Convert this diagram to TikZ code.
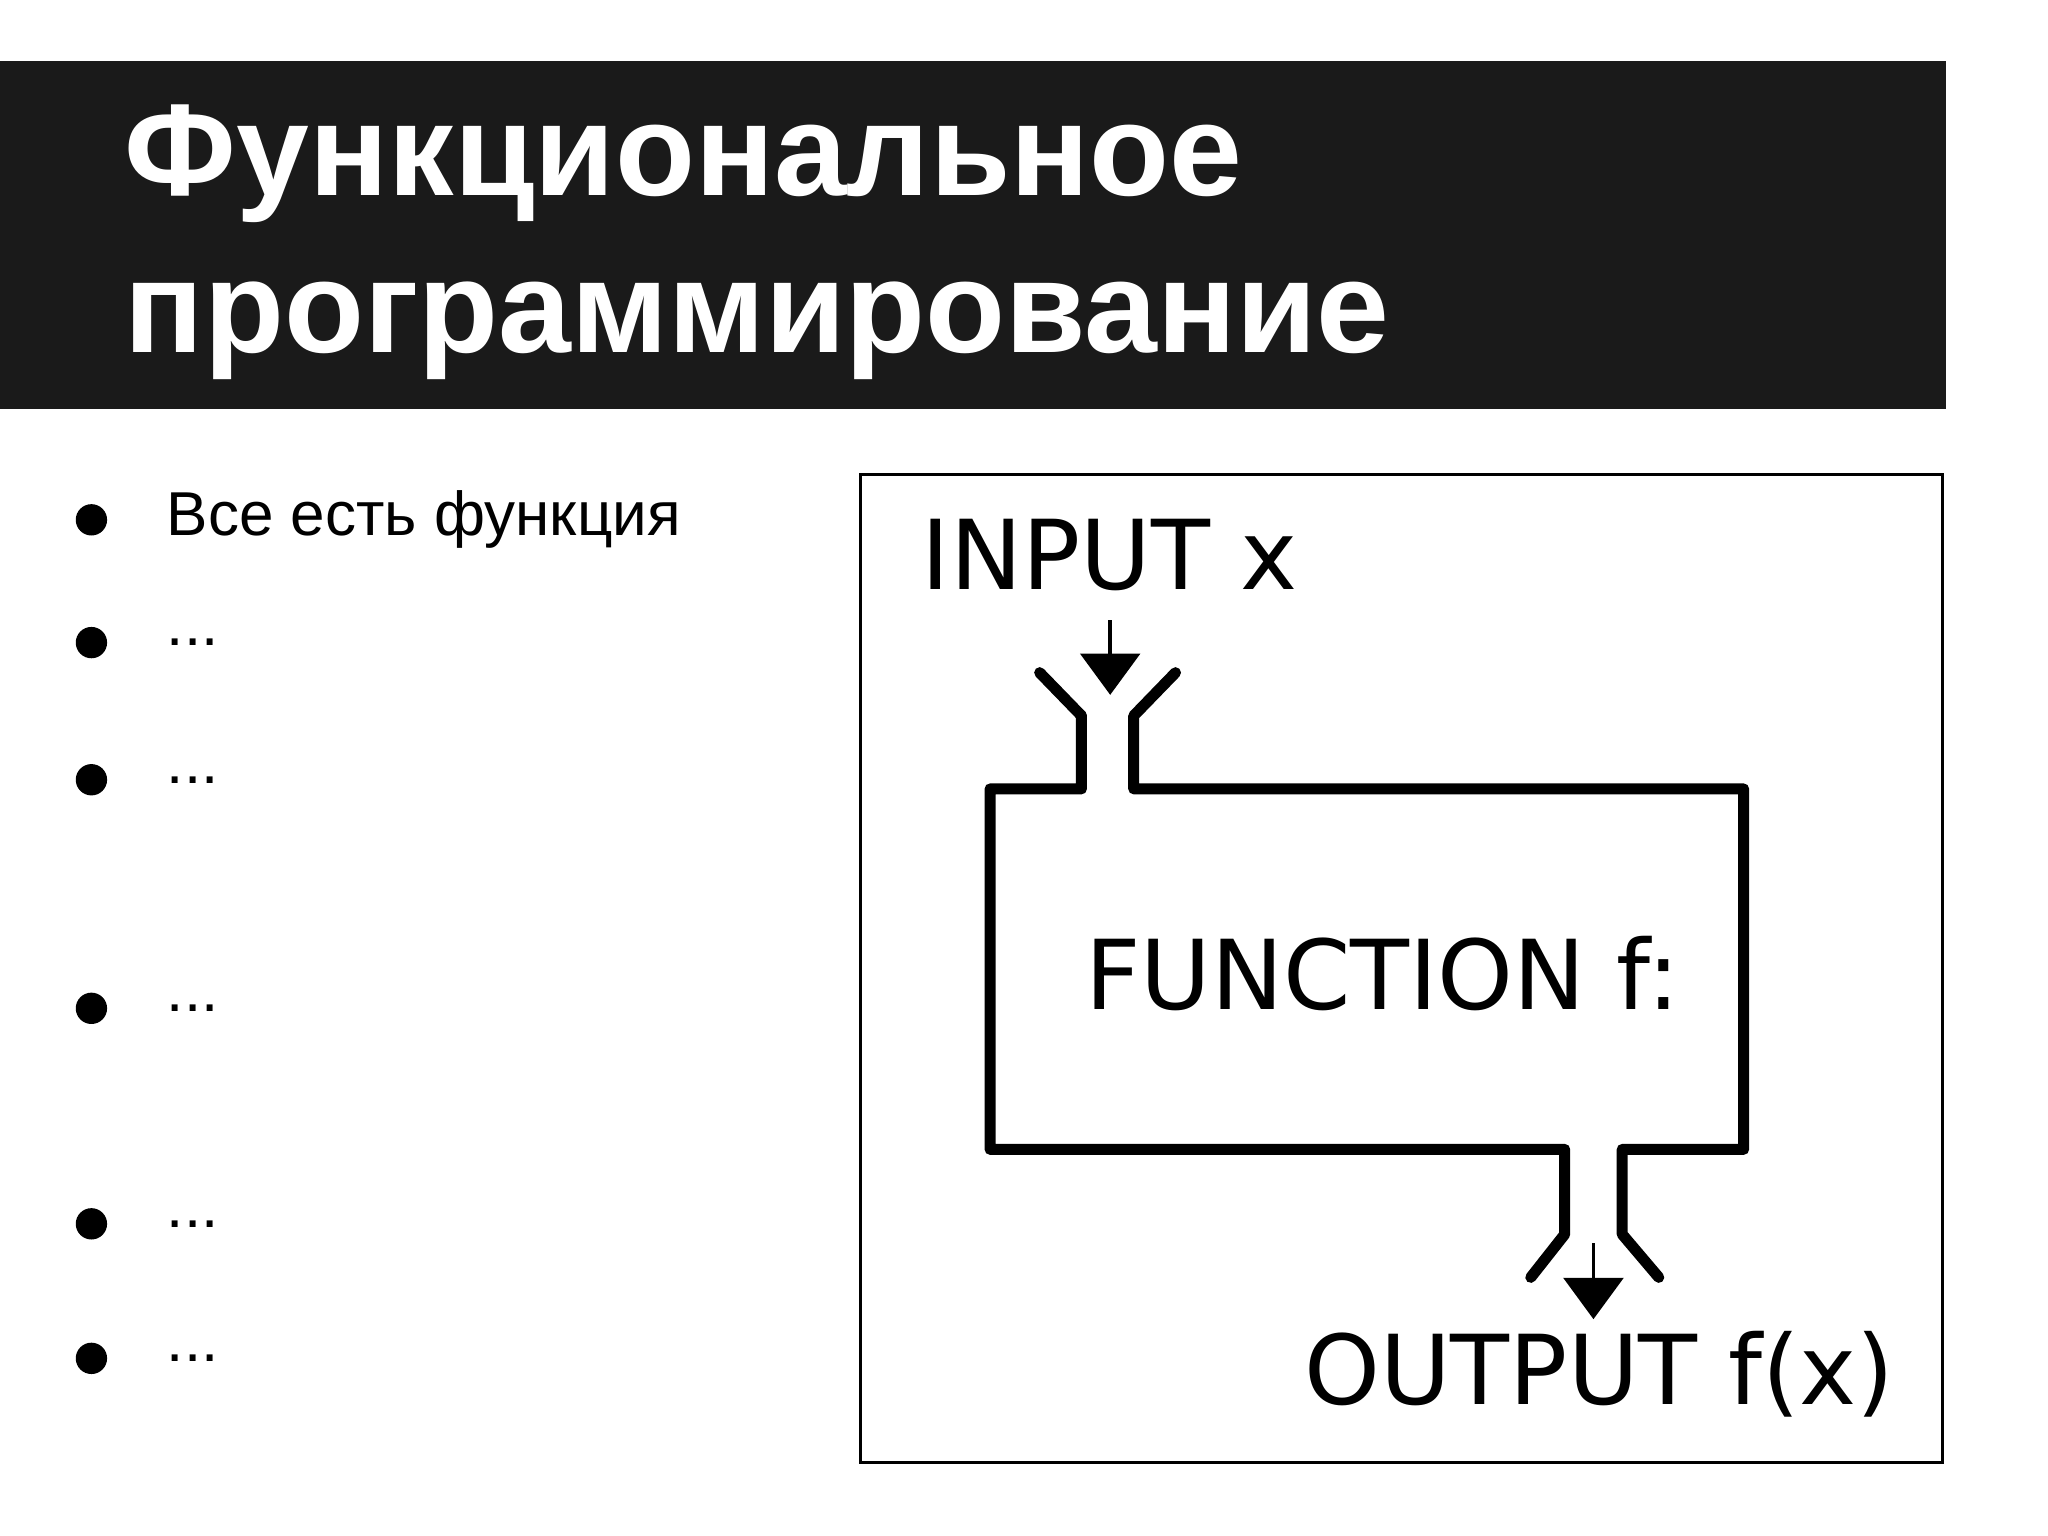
\documentclass[tikz,border=0pt]{standalone}
\usepackage{fontspec}
\setmainfont{Liberation Sans}
\newfontfamily\dejavu{DejaVu Sans}
\usetikzlibrary{arrows.meta}
\begin{document}
\begin{tikzpicture}[x=0.01cm,y=-0.01cm,
  thick line/.style={line width=2.4pt,line cap=round,line join=round},
  dlabel/.style={font=\dejavu\fontsize{21}{25}\selectfont,inner sep=0pt,anchor=west},
  bul/.style={font=\fontsize{13.5}{16}\selectfont,inner sep=0pt,anchor=west},
  tip/.style={-{Triangle[length=9pt,width=13pt]},line width=0.8pt}]
\useasboundingbox (0,0) rectangle (1568,1176);
\fill[fill={rgb,255:red,26;green,26;blue,26}] (0,47) rectangle (1490,313);
\node[anchor=base west,inner sep=0pt,text=white,font=\bfseries\fontsize{28.5}{34}\selectfont] (t1) at (95,150) {Функциональное};
\node[anchor=base west,inner sep=0pt,text=white,font=\bfseries\fontsize{28.5}{34}\selectfont] (t2) at (95,270) {программирование};
\node[bul] (b1) at (127,398) {Все есть функция};
\node[bul] (b2) at (127,492) {...};
\node[bul] (b3) at (127,597) {...};
\node[bul] (b4) at (127,772) {...};
\node[bul] (b5) at (127,937) {...};
\node[bul] (b6) at (127,1040) {...};
\foreach \y in {398,492,597,772,937,1040}{\fill (70,\y) circle (12);}
\draw[line width=0.7pt] (659,363) rectangle (1487,1120);
\draw[thick line] (828,548) -- (828,604) -- (758,604) -- (758,880) -- (1198,880) -- (1198,945) -- (1172,978);
\draw[thick line] (796,515) -- (828,548);
\draw[thick line] (900,515) -- (868,548) -- (868,604) -- (1335,604) -- (1335,880) -- (1242,880) -- (1242,945) -- (1270,978);
\node[dlabel] (in) at (705,425) {INPUT x};
\node[dlabel] (fn) at (830,745) {FUNCTION f:};
\node[dlabel] (out) at (998,1052) {OUTPUT f(x)};
\coordinate (a1) at (850,475); \coordinate (a2) at (850,532);
\coordinate (c1) at (1220,952); \coordinate (c2) at (1220,1010);
\draw[tip] (a1) -- (a2);
\draw[tip] (c1) -- (c2);
\end{tikzpicture}
\end{document}
